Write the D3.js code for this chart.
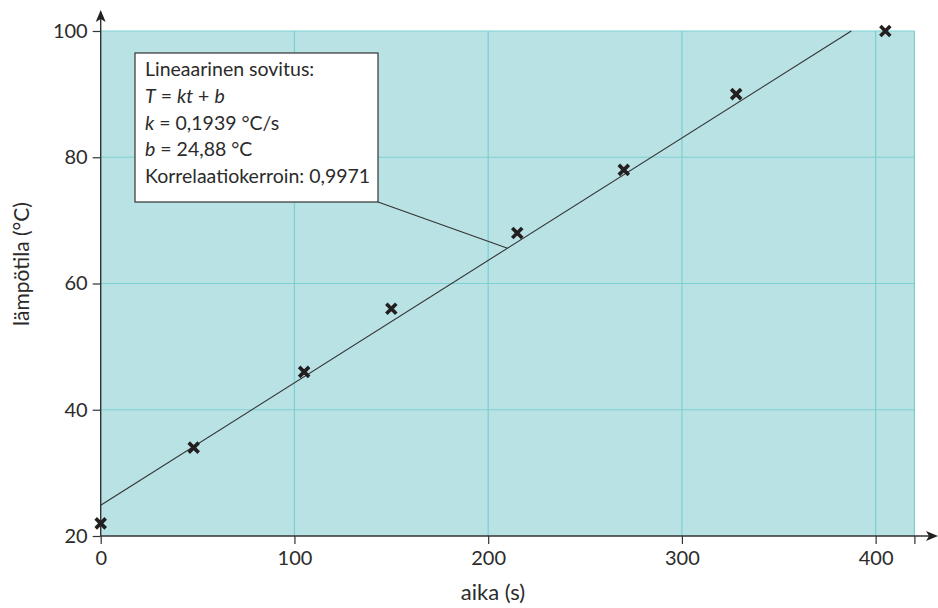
<!DOCTYPE html>
<html>
<head>
<meta charset="utf-8">
<script src="https://cdn.jsdelivr.net/npm/d3@7"></script>
<style>
  html, body { margin: 0; padding: 0; background: #fff; }
  svg text { font-family: Lato, "Open Sans", sans-serif; fill: #2b2b2b; }
</style>
</head>
<body>
<svg id="chart" width="938" height="608"></svg>
<script>
// Measured temperature over time
const times = [0, 48, 105, 150, 215, 270, 328, 405];
const temps = [22, 34, 46, 56, 68, 78, 90, 100];

// Linear fit T = k t + b
const slopeK = 0.1939;
const interceptB = 24.88;
const correlation = 0.9971;

const xTicks = [0, 100, 200, 300, 400];
const yTicks = [20, 40, 60, 80, 100];
const xDomain = [0, 420];
const yDomain = [20, 100];

const svg = d3.select("#chart");
const x = d3.scaleLinear().domain(xDomain).range([100.7, 914.4]);
const y = d3.scaleLinear().domain(yDomain).range([536, 31]);

const axisColor = "#333";
const gridColor = "#7ccfd3";

// plot background
svg.append("rect")
  .attr("x", x(xDomain[0])).attr("y", y(yDomain[1]))
  .attr("width", x(xDomain[1]) - x(xDomain[0]))
  .attr("height", y(yDomain[0]) - y(yDomain[1]))
  .attr("fill", "#b9e2e4");

// grid
const grid = svg.append("g").attr("stroke", gridColor).attr("stroke-width", 1.2);
grid.selectAll("line.v").data(xTicks.filter(d => d > 0).concat([xDomain[1]])).join("line")
  .attr("x1", d => x(d)).attr("x2", d => x(d))
  .attr("y1", y(yDomain[0])).attr("y2", y(yDomain[1]));
grid.selectAll("line.h").data(yTicks.filter(d => d > yDomain[0])).join("line")
  .attr("x1", x(0)).attr("x2", x(xDomain[1]))
  .attr("y1", d => y(d)).attr("y2", d => y(d));

// fit line, from t = 0 up to the top of the plot
const tEnd = (yDomain[1] - interceptB) / slopeK;
svg.append("line")
  .attr("x1", x(0)).attr("y1", y(interceptB))
  .attr("x2", x(tEnd)).attr("y2", y(yDomain[1]))
  .attr("stroke", "#333").attr("stroke-width", 1.1);

// x axis
const xAxis = d3.axisBottom(x).tickValues(xTicks.concat([xDomain[1]]))
  .tickSize(8).tickPadding(6)
  .tickFormat(d => xTicks.includes(d) ? d : "");
const gx = svg.append("g").attr("transform", `translate(0,${y(yDomain[0])})`).call(xAxis);
gx.select(".domain").remove();
gx.selectAll(".tick line").attr("stroke", axisColor).attr("stroke-width", 1.2);
gx.selectAll(".tick text").style("font-size", "20px").attr("fill", "#2b2b2b").attr("dy", "0.75em");
svg.append("line").attr("x1", x(0)).attr("x2", 930)
  .attr("y1", y(yDomain[0])).attr("y2", y(yDomain[0]))
  .attr("stroke", axisColor).attr("stroke-width", 1.4);
svg.append("path")
  .attr("d", `M938,${y(yDomain[0])} L926,${y(yDomain[0]) - 5} L929,${y(yDomain[0])} L926,${y(yDomain[0]) + 5} Z`)
  .attr("fill", "#222");

// y axis
const yAxis = d3.axisLeft(y).tickValues(yTicks).tickSize(8).tickPadding(5);
const gy = svg.append("g").attr("transform", `translate(${x(0)},0)`).call(yAxis);
gy.select(".domain").remove();
gy.selectAll(".tick line").attr("stroke", axisColor).attr("stroke-width", 1.2);
gy.selectAll(".tick text").style("font-size", "20px").attr("fill", "#2b2b2b");
svg.append("line").attr("x1", x(0)).attr("x2", x(0))
  .attr("y1", y(yDomain[0])).attr("y2", 16)
  .attr("stroke", axisColor).attr("stroke-width", 1.4);
svg.append("path")
  .attr("d", `M${x(0)},10 L${x(0) - 5},22 L${x(0)},19 L${x(0) + 5},22 Z`)
  .attr("fill", "#222");

// axis titles
svg.append("text").attr("x", 493).attr("y", 600)
  .attr("text-anchor", "middle").style("font-size", "22px").text("aika (s)");
svg.append("text")
  .attr("transform", "translate(29,264) rotate(-90)")
  .attr("text-anchor", "middle").style("font-size", "21px").text("lämpötila (°C)");

// data markers
const s = 5;
const marks = svg.append("g").attr("stroke", "#231f20").attr("stroke-width", 3.6).attr("stroke-linecap", "butt");
times.forEach((t, i) => {
  const cx = x(t), cy = y(temps[i]);
  marks.append("path").attr("d", `M${cx - s},${cy - s}L${cx + s},${cy + s}M${cx - s},${cy + s}L${cx + s},${cy - s}`);
});

// annotation box with leader line to the fit
const box = { x: 135, y: 53, w: 243, h: 149 };
const tLeader = 210;
svg.append("line")
  .attr("x1", box.x + box.w).attr("y1", box.y + box.h)
  .attr("x2", x(tLeader)).attr("y2", y(slopeK * tLeader + interceptB))
  .attr("stroke", "#333").attr("stroke-width", 1.1);
svg.append("rect").attr("x", box.x).attr("y", box.y).attr("width", box.w).attr("height", box.h)
  .attr("fill", "#fff").attr("stroke", "#333").attr("stroke-width", 1.2);

const fmt = v => String(v).replace(".", ",");
const lines = [
  [["Lineaarinen sovitus:", false]],
  [["T", true], [" = ", false], ["kt", true], [" + ", false], ["b", true]],
  [["k", true], [" = " + fmt(slopeK) + " °C/s", false]],
  [["b", true], [" = " + fmt(interceptB) + " °C", false]],
  [["Korrelaatiokerroin: " + fmt(correlation), false]]
];
const txt = svg.append("g").style("font-size", "19.5px");
lines.forEach((parts, i) => {
  const t = txt.append("text").attr("x", box.x + 10).attr("y", box.y + 23 + i * 26.8);
  parts.forEach(([str, it]) => t.append("tspan").attr("font-style", it ? "italic" : "normal").text(str));
});
</script>
</body>
</html>
